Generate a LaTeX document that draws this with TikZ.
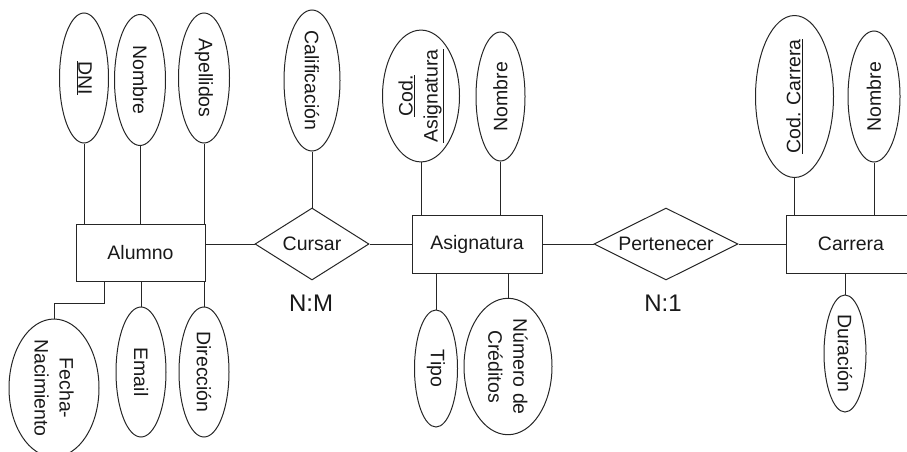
\documentclass[tikz,border=0pt]{standalone}
\usepackage{fontspec}
\setmainfont{Liberation Sans}
\usetikzlibrary{shapes.geometric}
\tikzset{
  base/.style={font=\fontsize{19.5}{25}\selectfont, text=black!90, draw=black!85, line width=1pt, inner sep=0pt},
  entity/.style={base, rectangle, minimum width=130, minimum height=58},
  rel/.style={base, diamond, minimum height=72, aspect=2},
  attrdown/.style={base, ellipse, rotate=-90, align=center},
  attrup/.style={base, ellipse, rotate=90, align=center},
  card/.style={font=\fontsize{24}{28}\selectfont, text=black!90, inner sep=0pt},
  link/.style={draw=black!85, line width=1pt}
}
\begin{document}
\begin{tikzpicture}[x=1pt,y=-1pt]
\useasboundingbox (0,0) rectangle (907,452);
\clip (0,0) rectangle (907,452);
% entities
\node[entity, minimum width=129, minimum height=57] (alumno) at (140.5,252.5) {Alumno};
\node[entity] (asig) at (477,244) {Asignatura};
\node[entity] (carrera) at (851,244) {Carrera};
% relationships
\node[rel, minimum width=114] (cursar) at (312,244) {Cursar};
\node[rel, minimum width=144] (pert) at (666,244) {Pertenecer};
\node[card] (nm) at (311,303) {N:M};
\node[card] (n1) at (663,303) {N:1};
% attributes of Alumno
\node[attrdown, minimum width=130, minimum height=49] (dni) at (84,78) {\underline{DNI}};
\node[attrdown, minimum width=131, minimum height=51] (nom1) at (140,80) {Nombre};
\node[attrdown, minimum width=130, minimum height=51] (apel) at (204,78) {Apellidos};
\node[attrdown, minimum width=126, minimum height=90] (fecha) at (54,388) {Fecha-\\Nacimiento};
\node[attrdown, minimum width=130, minimum height=50] (email) at (141,372) {Email};
\node[attrdown, minimum width=130, minimum height=50] (dir) at (204,372) {Dirección};
% attribute of Cursar
\node[attrdown, minimum width=127, minimum height=56] (calif) at (312,80.5) {Calificación};
% attributes of Asignatura
\node[attrup, minimum width=130, minimum height=77] (codasig) at (421,96) {\underline{Cod.}\\\underline{Asignatura}};
\node[attrup, minimum width=129, minimum height=49] (nom2) at (500.5,96.5) {Nombre};
\node[attrdown, minimum width=117, minimum height=43] (tipo) at (436,368.5) {Tipo};
\node[attrdown, minimum width=117, minimum height=88] (num) at (508,366.5) {Número de\\Créditos};
% attributes of Carrera
\node[attrup, minimum width=131, minimum height=78] (codcar) at (794.5,96.5) {\underline{Cod. Carrera}};
\node[attrup, minimum width=131, minimum height=52] (nom3) at (874,96.5) {Nombre};
\node[attrdown, minimum width=117, minimum height=42] (dur) at (845,353.5) {Duración};
% connectors
\draw[link] (dni.east) -- (dni.east |- alumno.north);
\draw[link] (nom1.east) -- (nom1.east |- alumno.north);
\draw[link] (apel.east) -- (apel.east |- alumno.north);
\draw[link] ([xshift=-36.5pt]alumno.south) -- ++(0,22) -| (fecha.west);
\draw[link] (email.west) -- (email.west |- alumno.south);
\draw[link] (dir.west) -- (dir.west |- alumno.south);
\draw[link] (cursar.west) -- (cursar.west -| alumno.east);
\draw[link] (calif.east) -- (cursar.north);
\draw[link] (cursar.east) -- (asig.west);
\draw[link] (codasig.west) -- (codasig.west |- asig.north);
\draw[link] (nom2.west) -- (nom2.west |- asig.north);
\draw[link] (tipo.west) -- (tipo.west |- asig.south);
\draw[link] (num.west) -- (num.west |- asig.south);
\draw[link] (asig.east) -- (pert.west);
\draw[link] (pert.east) -- (carrera.west);
\draw[link] (codcar.west) -- (codcar.west |- carrera.north);
\draw[link] (nom3.west) -- (nom3.west |- carrera.north);
\draw[link] (dur.west) -- (dur.west |- carrera.south);
\end{tikzpicture}
\end{document}
